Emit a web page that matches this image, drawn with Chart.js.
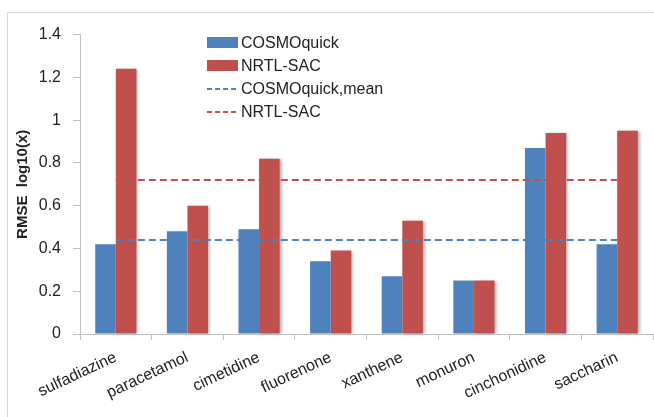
<!DOCTYPE html>
<html>
<head>
<meta charset="utf-8">
<script src="https://cdn.jsdelivr.net/npm/chart.js@4.4.0/dist/chart.umd.min.js"></script>
<style>
  body { margin: 0; background: #fff; width: 654px; height: 417px; overflow: hidden; position: relative; font-family: "Liberation Sans", Arial, sans-serif; }
  #marco { position: absolute; left: 7px; top: 12px; width: 700px; height: 450px; border: 1px solid #d9d9d9; }
  #myChart { position: absolute; left: 8px; top: 13px; }
  #leyenda { position: absolute; left: 207px; top: 31px; font-size: 16px; color: #222; }
  .item { height: 23px; display: flex; align-items: center; }
  .caja { width: 31px; height: 11px; margin-right: 3px; }
  .raya { width: 31px; height: 2px; margin-right: 3px; }
</style>
</head>
<body>
<div id="marco"></div>
<canvas id="myChart" width="646" height="404"></canvas>
<div id="leyenda"></div>
<script>
const categorias = ['sulfadiazine', 'paracetamol', 'cimetidine', 'fluorenone', 'xanthene', 'monuron', 'cinchonidine', 'saccharin'];
const cosmoQuick = [0.42, 0.48, 0.49, 0.34, 0.27, 0.25, 0.87, 0.42];
const nrtlSac = [1.24, 0.60, 0.82, 0.39, 0.53, 0.25, 0.94, 0.95];
const mediaCosmo = 0.44;
const mediaNrtl = 0.72;
const ticksY = [0, 0.2, 0.4, 0.6, 0.8, 1, 1.2, 1.4];

const azul = '#4F81BD';
const rojo = '#C0504D';

// sombra suave a la derecha de las barras rojas
const sombraBarras = {
    id: 'sombraBarras',
    beforeDatasetDraw(chart, args) {
        if (args.meta.type !== 'bar' || args.index !== 1) return;
        const ctx = chart.ctx;
        ctx.save();
        ctx.shadowColor = 'rgba(0,0,0,0.3)';
        ctx.shadowOffsetX = 2;
        ctx.shadowOffsetY = 0;
        ctx.shadowBlur = 3;
    },
    afterDatasetDraw(chart, args) {
        if (args.meta.type !== 'bar' || args.index !== 1) return;
        chart.ctx.restore();
    }
};

const ctx = document.getElementById('myChart').getContext('2d');
new Chart(ctx, {
    data: {
        labels: categorias,
        datasets: [
            {
                type: 'bar',
                label: 'COSMOquick',
                data: cosmoQuick,
                backgroundColor: azul,
                categoryPercentage: 0.575,
                barPercentage: 1,
                order: 1
            },
            {
                type: 'bar',
                label: 'NRTL-SAC',
                data: nrtlSac,
                backgroundColor: rojo,
                categoryPercentage: 0.575,
                barPercentage: 1,
                order: 1
            },
            {
                type: 'line',
                label: 'COSMOquick,mean',
                data: categorias.map(() => mediaCosmo),
                borderColor: azul,
                borderWidth: 2,
                borderDash: [7, 4],
                pointRadius: 0,
                fill: false,
                order: 0
            },
            {
                type: 'line',
                label: 'NRTL-SAC',
                data: categorias.map(() => mediaNrtl),
                borderColor: rojo,
                borderWidth: 2,
                borderDash: [7, 4],
                pointRadius: 0,
                fill: false,
                order: 0
            }
        ]
    },
    options: {
        responsive: false,
        animation: false,
        layout: { padding: { left: 6, right: 1, top: 18, bottom: 0 } },
        plugins: {
            legend: { display: false },
            tooltip: { enabled: false }
        },
        scales: {
            x: {
                offset: true,
                afterFit: s => { s.height = 83; },
                border: { color: '#bfbfbf' },
                grid: { offset: true, drawOnChartArea: false, tickLength: 6, color: '#bfbfbf' },
                ticks: {
                    font: { family: '"Liberation Sans", Arial, sans-serif', size: 16 },
                    color: '#222',
                    minRotation: 25,
                    maxRotation: 25,
                    padding: 8,
                    autoSkip: false
                }
            },
            y: {
                min: 0,
                max: 1.4,
                afterBuildTicks: s => { s.ticks = ticksY.map(v => ({ value: v })); },
                afterFit: s => { s.width = 66; },
                border: { color: '#bfbfbf' },
                grid: { drawOnChartArea: false, tickLength: 7, color: '#bfbfbf' },
                ticks: {
                    font: { family: '"Liberation Sans", Arial, sans-serif', size: 16 },
                    color: '#222',
                    padding: 12,
                    callback: v => String(v)
                },
                title: {
                    display: true,
                    text: 'RMSE  log10(x)',
                    font: { family: '"Liberation Sans", Arial, sans-serif', size: 15, weight: 'bold' },
                    color: '#222',
                    padding: { top: 0, bottom: 0 }
                }
            }
        }
    },
    plugins: [sombraBarras]
});

// leyenda dentro del área del gráfico
const itemsLeyenda = [
    { texto: 'COSMOquick', color: azul, tipo: 'caja' },
    { texto: 'NRTL-SAC', color: rojo, tipo: 'caja' },
    { texto: 'COSMOquick,mean', color: azul, tipo: 'raya' },
    { texto: 'NRTL-SAC', color: rojo, tipo: 'raya' }
];
const leyenda = document.getElementById('leyenda');
itemsLeyenda.forEach(it => {
    const fila = document.createElement('div');
    fila.className = 'item';
    const marca = document.createElement('span');
    marca.className = it.tipo;
    if (it.tipo === 'caja') {
        marca.style.background = it.color;
    } else {
        marca.style.background = 'repeating-linear-gradient(to right, ' + it.color + ' 0 5px, transparent 5px 8px)';
    }
    const txt = document.createElement('span');
    txt.textContent = it.texto;
    fila.appendChild(marca);
    fila.appendChild(txt);
    leyenda.appendChild(fila);
});
</script>
</body>
</html>
